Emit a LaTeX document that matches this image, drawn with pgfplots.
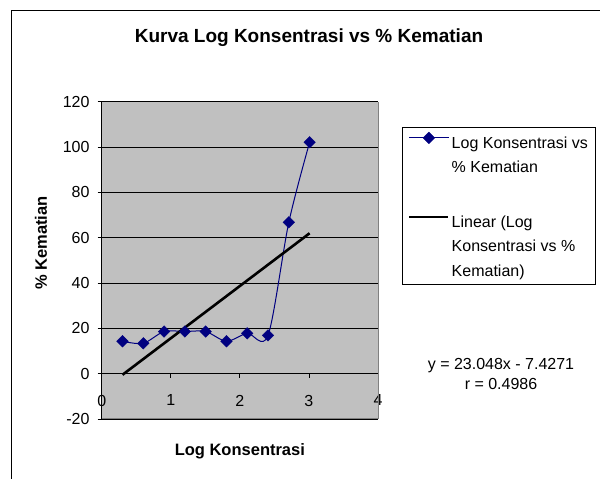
\documentclass[border=0pt]{standalone}
\usepackage{pgfplots}
\pgfplotsset{compat=1.18}
\usepackage{fontspec}
\setmainfont{Liberation Sans}
\definecolor{plotgray}{RGB}{192,192,192}
\definecolor{bordergray}{RGB}{128,128,128}
\definecolor{navyblue}{RGB}{0,0,128}
\begin{document}
\begin{tikzpicture}
\useasboundingbox (0pt,0pt) rectangle (600pt,479pt);
\fill[white] (0pt,0pt) rectangle (600pt,479pt);
\draw[line width=1pt] (11pt,-5pt) -- (11pt,468pt) -- (605pt,468pt);
\node[anchor=base, font=\fontsize{19}{22}\selectfont\bfseries] at (309pt,436.3pt) {Kurva Log Konsentrasi vs \% Kematian};
\node[align=center, font=\fontsize{16}{20.7}\selectfont, anchor=base] at (501pt,89pt) {y = 23.048x - 7.4271\\r = 0.4986};
\begin{axis}[
  at={(101.7pt,60pt)}, anchor=south west,
  scale only axis, width=276.3pt, height=317.3pt,
  xmin=0, xmax=4, ymin=-20, ymax=120,
  xtick={0,1,2,3,4}, ytick={-20,0,20,40,60,80,100,120},
  axis x line*=middle, axis y line*=left,
  hide obscured x ticks=false, hide obscured y ticks=false,
  axis line style={-, black, line width=0.8pt},
  tick align=outside, major tick length=4pt,
  tick style={black, line width=0.8pt},
  ymajorgrids, grid style={black, line width=0.8pt},
  axis background/.style={fill=plotgray},
  /pgf/number format/assume math mode=true,
  ticklabel style={font=\fontsize{16}{19}\selectfont},
  yticklabel style={anchor=east, inner sep=0pt, xshift=-8pt},
  xticklabel style={anchor=north, inner sep=0pt, yshift=-17pt},
  xlabel={Log Konsentrasi}, ylabel={\% Kematian},
  label style={font=\fontsize{16.5}{20}\selectfont\bfseries},
  xlabel style={at={(axis description cs:0.5,-0.101)}, anchor=center},
  ylabel style={at={(axis description cs:-0.22,0.555)}, anchor=center},
  legend style={at={(axis description cs:1.0858,0.9212)}, anchor=north west, draw=black, line width=0.8pt, font=\fontsize{16}{24.5}\selectfont, nodes={align=left, inner sep=2pt}, cells={anchor=north west}, inner xsep=6pt, inner ysep=5pt, row sep=37pt},
  legend image code/.code={\draw[mark repeat=2,mark phase=2,#1] plot coordinates {(0pt,-3.5pt) (19.5pt,-3.5pt) (39pt,-3.5pt)};},
  clip=false,
]
\draw[bordergray, line width=1pt] (rel axis cs:0,0) -- (rel axis cs:1,0) -- (rel axis cs:1,1);
\addplot[navyblue, line width=1pt, smooth, mark=square*, mark size=4.1pt, mark options={solid, fill=navyblue, line width=0.4pt, rotate=45}]
  coordinates {(0.301,14.3) (0.602,13.4) (0.903,18.6) (1.204,18.6) (1.505,18.6) (1.806,14.3) (2.107,17.8) (2.408,16.9) (2.709,66.8) (3.010,102.1)};
\addlegendentry{Log Konsentrasi vs\\\% Kematian}
\addplot[black, line width=2.6pt] coordinates {(0.301,-0.49) (3.010,61.95)};
\addlegendentry{Linear (Log\\Konsentrasi vs \%\\Kematian)}
\end{axis}
\end{tikzpicture}
\end{document}
